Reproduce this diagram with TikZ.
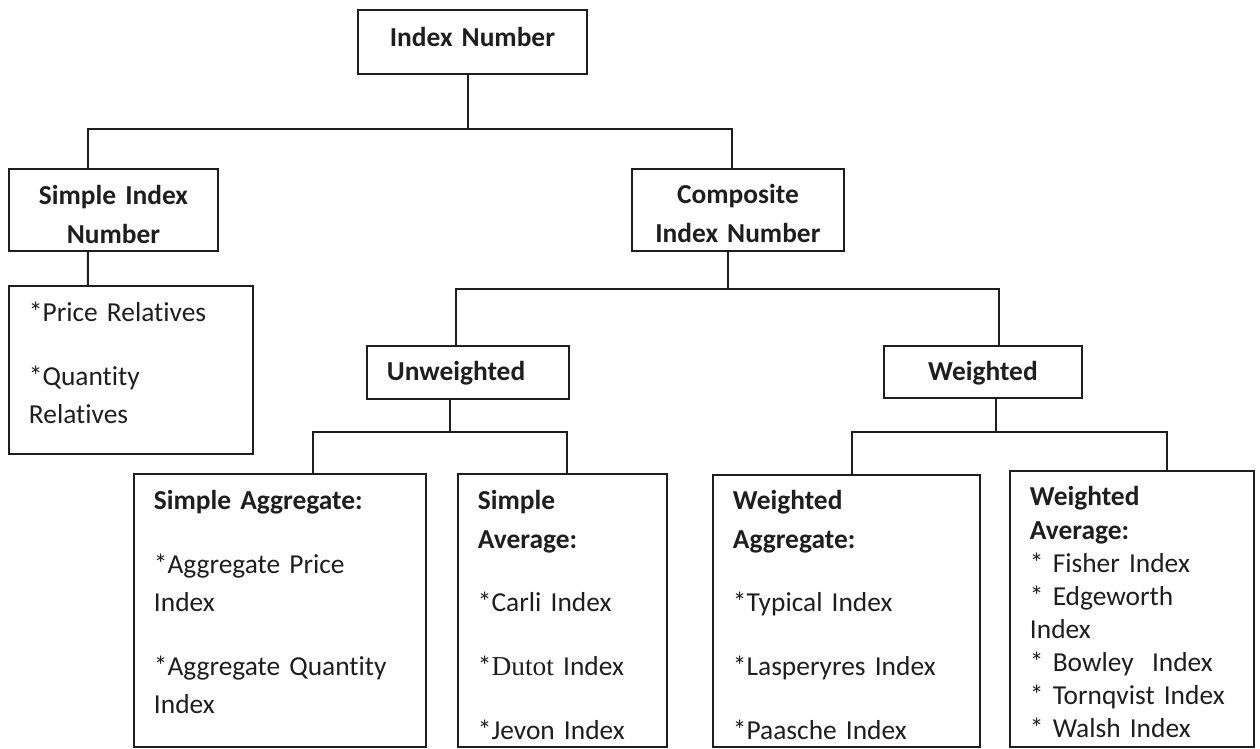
\documentclass[tikz,border=0pt]{standalone}
\usepackage{fontspec}
\setmainfont{Carlito}[Ligatures=NoCommon]
\newfontfamily\serifpart{Liberation Serif}
\definecolor{inkblack}{RGB}{30,30,30}
\tikzset{
  headbox/.style={
    draw=inkblack, text=inkblack, line width=1.1pt,
    anchor=north west, inner sep=0pt, align=center,
    font=\fontsize{15.6pt}{21.8pt}\selectfont\bfseries
  },
  listbox/.style={
    draw=inkblack, text=inkblack, line width=1.1pt,
    anchor=north west, inner xsep=0.4cm, inner ysep=0pt, align=left,
    font=\fontsize{15.6pt}{21.8pt}\selectfont
  },
  link/.style={draw=inkblack, line width=1.1pt},
}

\begin{document}
\begin{tikzpicture}[x=0.02cm, y=-0.02cm]
  \useasboundingbox (0,0) rectangle (1260,748);

  %% Level 0
  \node[headbox, text width=4.58cm, text height=0.74cm, text depth=0.54cm]
    (idx) at (357,9) {Index Number};

  %% Level 1
  \node[headbox, text width=4.18cm, text height=0.72cm, text depth=0.92cm]
    (simple) at (8,168) {Simple Index\\Number};
  \node[headbox, text width=4.24cm, text height=0.70cm, text depth=0.94cm]
    (comp) at (631,168) {Composite\\Index Number};

  %% Level 2
  \node[listbox, text width=4.08cm, text height=0.72cm, text depth=2.64cm]
    (rel) at (8,285) {*Price Relatives\\[14.4pt]*Quantity\\Relatives};
  \node[listbox, text width=3.24cm, text height=0.70cm, text depth=0.36cm]
    (unw) at (366,345) {\textbf{Unweighted}};
  \node[headbox, text width=3.96cm, text height=0.70cm, text depth=0.34cm]
    (wtd) at (883,345) {Weighted};

  %% Level 3
  \node[listbox, text width=5.04cm, text height=0.72cm, text depth=4.74cm]
    (sagg) at (133,473) {\textbf{Simple Aggregate:}\\[14.4pt]
      *Aggregate Price\\Index\\[14.4pt]
      *Aggregate Quantity\\Index};
  \node[listbox, text width=3.38cm, text height=0.72cm, text depth=4.74cm]
    (savg) at (457,473) {\textbf{Simple}\\\textbf{Average:}\\[14.4pt]
      *Carli Index\\[14.4pt]
      *{\serifpart Dutot} Index\\[14.4pt]
      *Jevon Index};
  \node[listbox, text width=4.54cm, text height=0.70cm, text depth=4.74cm]
    (wagg) at (712,474) {\textbf{Weighted}\\\textbf{Aggregate:}\\[14.4pt]
      *Typical Index\\[14.4pt]
      *Lasperyres Index\\[14.4pt]
      *Paasche Index};
  \node[listbox, text width=4.08cm, text height=0.70cm, text depth=4.82cm,
    font=\fontsize{15.6pt}{18.85pt}\selectfont]
    (wavg) at (1009,470) {\textbf{Weighted}\\\textbf{Average:}\\{}%
      * Fisher Index\\{}* Edgeworth\\Index\\{}%
      * Bowley\ \ Index\\{}* Tornqvist Index\\{}* Walsh Index};

  %% Connectors
  \draw[link] ([xshift=-0.09cm]idx.south) -- ++(0,54) coordinate (b1);
  \draw[link] ([xshift=-0.51cm]simple.north) |- (b1)
    -| ([xshift=-0.12cm]comp.north);

  \draw[link] ([xshift=-0.51cm]simple.south) -- ([xshift=-0.86cm]rel.north);

  \draw[link] ([xshift=-0.2cm]comp.south) -- ++(0,37) coordinate (b2);
  \draw[link] ([xshift=-0.24cm]unw.north) |- (b2)
    -| ([xshift=0.32cm]wtd.north);

  \draw[link] ([xshift=-0.36cm]unw.south) -- ++(0,32) coordinate (b3);
  \draw[link] ([xshift=0.66cm]sagg.north) |- (b3)
    -| ([xshift=0.09cm]savg.north);

  \draw[link] ([xshift=0.26cm]wtd.south) -- ++(0,33) coordinate (b4);
  \draw[link] ([xshift=0.11cm]wagg.north) |- (b4)
    -| ([xshift=0.70cm]wavg.north);
\end{tikzpicture}
\end{document}
